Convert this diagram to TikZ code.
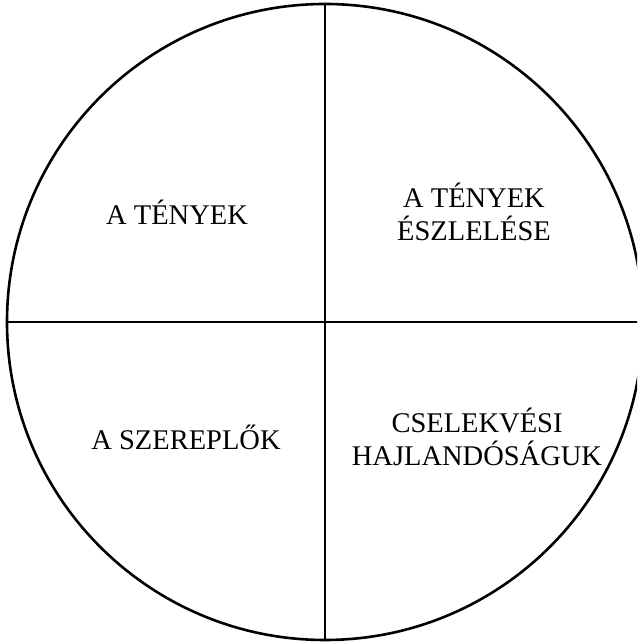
\documentclass[tikz,border=0pt]{standalone}
\usepackage{fontspec}
\setmainfont{Liberation Serif}
\begin{document}
\begin{tikzpicture}[x=1pt,y=1pt,
        quadrant/.style={align=center, font=\fontsize{28.5}{33}\selectfont}]
        \useasboundingbox (0,0) rectangle (637,642);
        \clip (0,0) rectangle (637,642);

        % circle and axes
        \coordinate (C) at (325,320);
        \coordinate (top) at (325,638);
        \coordinate (bot) at (325,2);
        \coordinate (lft) at (7,320);
        \coordinate (rgt) at (643,320);
        \draw[line width=2.6pt] (C) circle (318);
        \draw[line width=2.1pt] (top) -- (bot);
        \draw[line width=2.1pt] (lft) -- (rgt);

        % quadrant labels
        \node[quadrant] (facts) at (177,430) {A TÉNYEK};
        \node[quadrant] (percep) at (474,430) {A TÉNYEK\\ÉSZLELÉSE};
        \node[quadrant] (actors) at (186,205) {A SZEREPLŐK};
        \node[quadrant] (disp) at (477,205) {CSELEKVÉSI\\HAJLANDÓSÁGUK};
    \end{tikzpicture}
\end{document}
